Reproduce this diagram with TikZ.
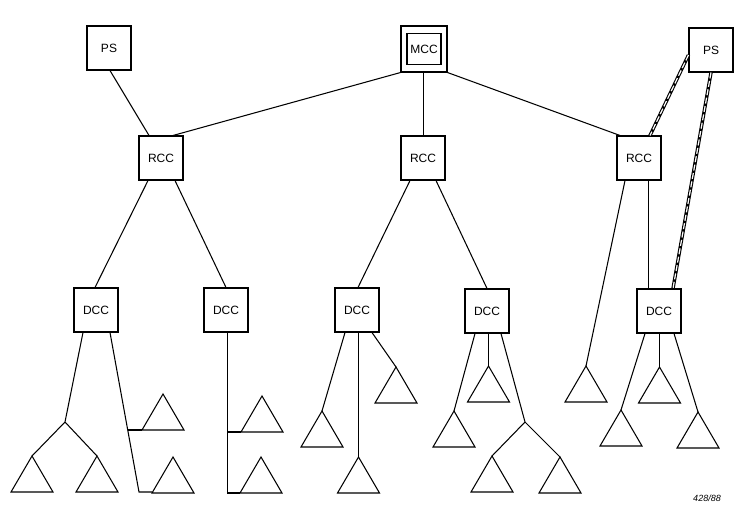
\documentclass[tikz,border=0pt]{standalone}
\usepackage{fontspec}
\setmainfont{Liberation Sans}
\begin{document}
\begin{tikzpicture}[x=1pt,y=-1pt,line width=1.05pt,
  box/.style={draw,minimum width=44pt,minimum height=44pt,inner sep=0pt,font=\fontsize{12}{14}\selectfont},
  tri/.pic={\draw (0,0) -- (-21,36) -- (21,36) -- cycle;},
  dblout/.style={line width=3.4pt},
  dblin/.style={white,line width=1.2pt,dash pattern=on 6pt off 2.5pt}]
\useasboundingbox (0,0) rectangle (743,517);
% top level
\node[box] (psL) at (109,48) {PS};
\node[box,minimum width=46pt,minimum height=46pt] (mcc) at (424,49) {};
\node[draw,minimum width=34pt,minimum height=31pt,inner sep=0pt,font=\fontsize{12}{14}\selectfont] (mcci) at (mcc) {MCC};
\node[box] (psR) at (711,50) {PS};
% regional
\node[box] (rccL) at (161,158) {RCC};
\node[box] (rccM) at (423,158) {RCC};
\node[box] (rccR) at (639,158) {RCC};
% district
\node[box] (dcc1) at (96,310) {DCC};
\node[box] (dcc2) at (226,310) {DCC};
\node[box] (dcc3) at (357,310) {DCC};
\node[box] (dcc4) at (487,311) {DCC};
\node[box] (dcc5) at (659,311) {DCC};
% triangle apexes
\coordinate (t1) at (32,456);
\coordinate (t2) at (97,456);
\coordinate (t3) at (163,394);
\coordinate (t4) at (173,457);
\coordinate (t5) at (262,396);
\coordinate (t6) at (261,457);
\coordinate (t7) at (322,411);
\coordinate (t8) at (358.5,457);
\coordinate (t9) at (396,367);
\coordinate (t10) at (454,411);
\coordinate (t11) at (488.5,366);
\coordinate (t12) at (492,456);
\coordinate (t13) at (560,457);
\coordinate (t14) at (586,366);
\coordinate (t15) at (621,410);
\coordinate (t16) at (659.5,367);
\coordinate (t17) at (698,412);
\foreach \t in {t1,t2,t3,t4,t5,t6,t7,t8,t9,t10,t11,t12,t13,t14,t15,t16,t17}
  \pic at (\t) {tri};
% junction coordinates
\coordinate (b1) at (65,422);
\coordinate (b4) at (525,422);
\coordinate (e1) at (139,492);
\coordinate (j1) at (128,430);
\coordinate (k3) at (142,430);
\coordinate (k4) at (152,492);
\coordinate (e2) at (227.5,493);
\coordinate (j2) at (227.5,432);
\coordinate (k5) at (241,432);
\coordinate (k6) at (240,493);
% upper connectors
\draw ([xshift=1pt]psL.south) -- ([xshift=-12pt]rccL.north);
\draw (mcc.south west) -- ([xshift=12pt]rccL.north);
\draw ([xshift=-0.5pt]mcc.south) -- ([xshift=0.5pt]rccM.north);
\draw (mcc.south east) -- ([xshift=-19pt]rccR.north);
\draw[dblout] ([yshift=-5pt]psR.west) -- ([xshift=11pt]rccR.north);
\draw[dblin] ([yshift=-5pt]psR.west) -- ([xshift=11pt]rccR.north);
\draw[dblout] (psR.south) -- ([xshift=14pt]dcc5.north);
\draw[dblin] (psR.south) -- ([xshift=14pt]dcc5.north);
% regional to district
\draw ([xshift=-13pt]rccL.south) -- ([xshift=-1pt]dcc1.north);
\draw ([xshift=14pt]rccL.south) -- (dcc2.north);
\draw ([xshift=-13pt]rccM.south) -- ([xshift=1pt]dcc3.north);
\draw ([xshift=13pt]rccM.south) -- (dcc4.north);
\draw ([xshift=-14pt]rccR.south) -- (t14);
\draw ([xshift=9.5pt]rccR.south) -- ([xshift=-10.5pt]dcc5.north);
% DCC 1
\draw ([xshift=-13pt]dcc1.south) -- (b1);
\draw (b1) -- (t1);
\draw (b1) -- (t2);
\draw ([xshift=14pt]dcc1.south) -- (e1) -- (k4);
\draw (j1) -- (k3);
% DCC 2
\draw ([xshift=1.5pt]dcc2.south) -- (e2) -- (k6);
\draw (j2) -- (k5);
% DCC 3
\draw ([xshift=-12pt]dcc3.south) -- (t7);
\draw ([xshift=1.5pt]dcc3.south) -- (t8);
\draw ([xshift=15pt]dcc3.south) -- (t9);
% DCC 4
\draw ([xshift=-12pt]dcc4.south) -- (t10);
\draw ([xshift=1.5pt]dcc4.south) -- (t11);
\draw ([xshift=14pt]dcc4.south) -- (b4);
\draw (b4) -- (t12);
\draw (b4) -- (t13);
% DCC 5
\draw ([xshift=-14pt]dcc5.south) -- (t15);
\draw ([xshift=0.5pt]dcc5.south) -- (t16);
\draw ([xshift=15pt]dcc5.south) -- (t17);
% figure number
\node[font=\fontsize{9}{11}\selectfont\itshape] (fig) at (707,498) {428/88};
\end{tikzpicture}
\end{document}
